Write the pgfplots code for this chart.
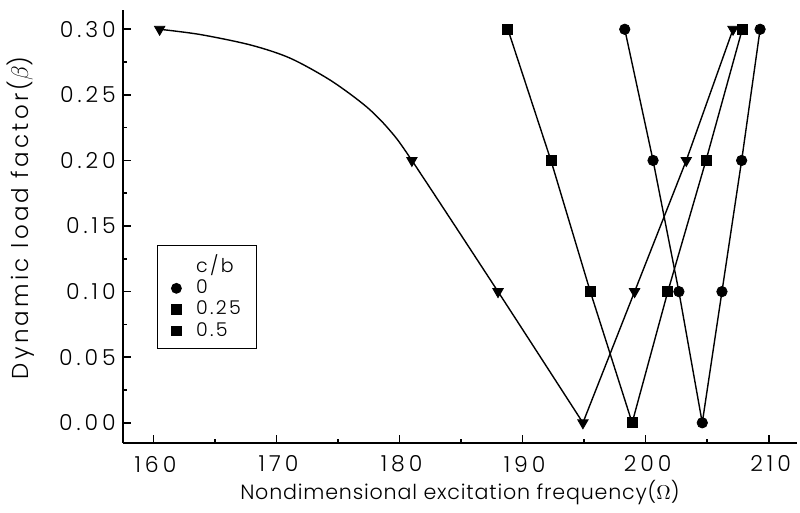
\documentclass[border=0pt]{standalone}
\usepackage{fontspec}
\IfFontExistsTF{Poppins Light}
  {\setmainfont{Poppins Light}[LetterSpace=4]}
  {\setmainfont{Poppins}[LetterSpace=4]}
\usepackage{pgfplots}
\pgfplotsset{compat=1.18}

% c/b = 0
\pgfplotstableread{
x y
198.3 0.30
200.6 0.20
202.7 0.10
204.6 0.00
206.2 0.10
207.8 0.20
209.3 0.30
}\cbzero
% c/b = 0.25
\pgfplotstableread{
x y
188.8 0.30
192.3 0.20
195.5 0.10
198.9 0.00
201.8 0.10
204.9 0.20
207.85 0.30
}\cbquarter
% c/b = 0.5 : computed points
\pgfplotstableread{
x y
160.5 0.30
181.0 0.20
188.0 0.10
194.9 0.00
199.1 0.10
203.3 0.20
207.1 0.30
}\cbhalf
% c/b = 0.5 : fitted curve of the lower branch
\pgfplotstableread{
x y
160.5 0.300
163.8 0.296
167.9 0.288
171.1 0.278
174.4 0.261
177.3 0.241
179.2 0.223
181.0 0.200
188.0 0.100
194.9 0.000
}\cbhalfcurve
% c/b = 0.5 : upper branch
\pgfplotstableread{
x y
194.9 0.00
199.1 0.10
203.3 0.20
207.1 0.30
}\cbhalfbranch

\newcommand{\legtext}[1]{\hspace{5.5pt}\makebox[27pt][l]{#1}}

\begin{document}
\begin{tikzpicture}[font=\fontsize{10.8}{13}\selectfont]
\begin{axis}[
  name=ax,
  scale only axis,
  width=337pt, height=216.35pt,
  xmin=157.5, xmax=212.3,
  ymin=-0.0153, ymax=0.3147,
  axis lines=left,
  axis line style={-, line width=1.1pt},
  tick align=inside,
  major tick length=4pt,
  minor tick length=2pt,
  every tick/.style={black, line width=0.8pt},
  xtick={160,170,180,190,200,210},
  minor xtick={165,175,185,195,205},
  ytick={0,0.05,0.10,0.15,0.20,0.25,0.30},
  minor ytick={0.025,0.075,0.125,0.175,0.225,0.275},
  /pgf/number format/assume math mode=true,
  tick label style={font=\fontsize{11}{13}\selectfont\addfontfeatures{LetterSpace=18}},
  yticklabel style={/pgf/number format/fixed, /pgf/number format/fixed zerofill, /pgf/number format/precision=2, xshift=0pt},
  xticklabel style={yshift=-3pt, xshift=1pt},
  xlabel={Nondimensional excitation frequency($\Omega$)},
  ylabel={Dynamic load factor($\beta$)},
  xlabel style={font=\fontsize{10.3}{12}\selectfont, at={(axis description cs:0.5,-0.114)}, anchor=center},
  ylabel style={font=\fontsize{11.5}{13}\selectfont\addfontfeatures{LetterSpace=14}, at={(axis description cs:-0.152,0.52)}, anchor=center},
  clip=false,
  legend style={
    at={(rel axis cs:0.0504,0.457)}, anchor=north west,
    draw=black, line width=0.6pt,
    font=\fontsize{9.5}{10.5}\selectfont\addfontfeatures{LetterSpace=12},
    row sep=-1.8pt,
    inner xsep=1pt, inner ysep=2.5pt,
  },
  legend cell align=left,
]
  % lines
  \addplot[black, line width=0.7pt, smooth, forget plot] table {\cbhalfcurve};
  \addplot[black, line width=0.7pt, sharp plot, forget plot] table {\cbhalfbranch};
  \addplot[black, line width=0.7pt, sharp plot, forget plot] table {\cbquarter};
  \addplot[black, line width=0.7pt, sharp plot, forget plot] table {\cbzero};
  % markers
  \addplot[only marks, mark=triangle*, mark size=3pt, mark options={rotate=180, fill=black}, forget plot] table {\cbhalf};
  \addplot[only marks, mark=square*, mark size=2.5pt, mark options={fill=black}, forget plot] table {\cbquarter};
  \addplot[only marks, mark=*, mark size=2.6pt, mark options={fill=black}, forget plot] table {\cbzero};
  % legend
  \addlegendimage{empty legend}
  \addlegendentry{\legtext{c/b}}
  \addlegendimage{only marks, mark=*, mark size=2.4pt, black}
  \addlegendentry{\legtext{0}}
  \addlegendimage{only marks, mark=square*, mark size=2.3pt, black}
  \addlegendentry{\legtext{0.25}}
  \addlegendimage{only marks, mark=square*, mark size=2.3pt, black}
  \addlegendentry{\legtext{0.5}}
\end{axis}
\pgfresetboundingbox
\path[use as bounding box] ([xshift=-61.35pt,yshift=-34.65pt]ax.south west) rectangle ([xshift=1.5pt,yshift=5pt]ax.north east);
\end{tikzpicture}
\end{document}
